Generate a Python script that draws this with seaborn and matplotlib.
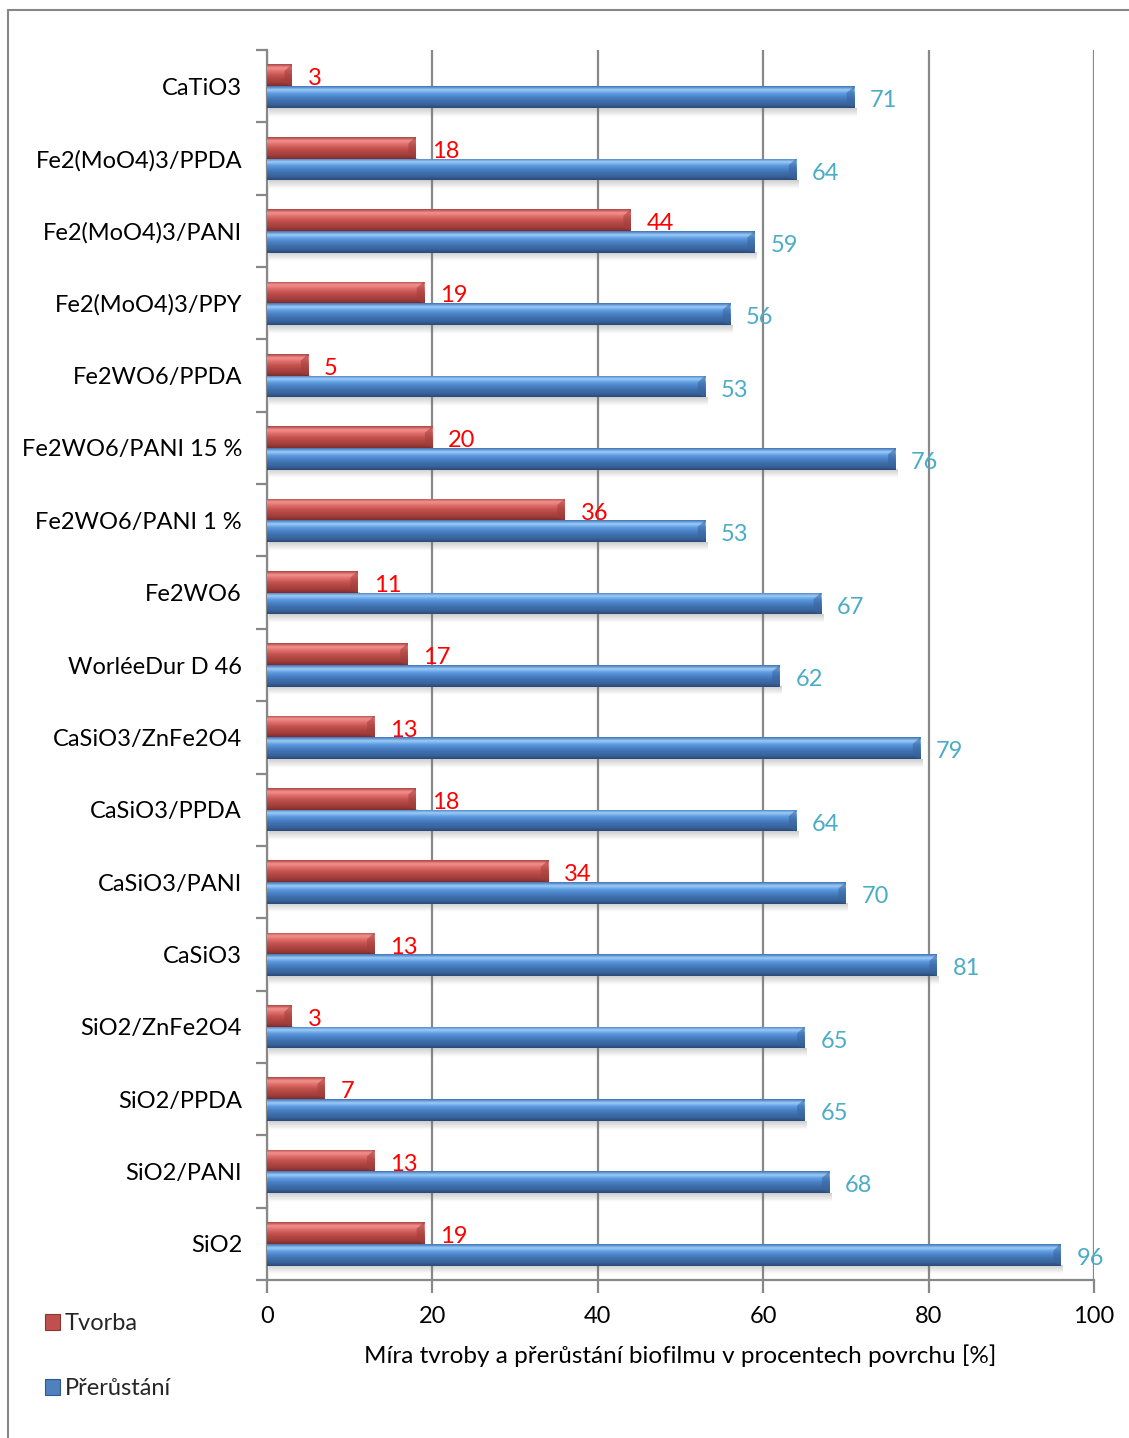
import numpy as np
import pandas as pd
import matplotlib
matplotlib.use("Agg")
import matplotlib.pyplot as plt
from matplotlib.patches import Patch
from matplotlib.lines import Line2D
from matplotlib.colors import to_rgb
import seaborn as sns

# ---- data ----
categories = [
    "CaTiO3", "Fe2(MoO4)3/PPDA", "Fe2(MoO4)3/PANI", "Fe2(MoO4)3/PPY",
    "Fe2WO6/PPDA", "Fe2WO6/PANI 15 %", "Fe2WO6/PANI 1 %", "Fe2WO6",
    "WorléeDur D 46", "CaSiO3/ZnFe2O4", "CaSiO3/PPDA", "CaSiO3/PANI",
    "CaSiO3", "SiO2/ZnFe2O4", "SiO2/PPDA", "SiO2/PANI", "SiO2",
]
tvorba = [3, 18, 44, 19, 5, 20, 36, 11, 17, 13, 18, 34, 13, 3, 7, 13, 19]
prerustani = [71, 64, 59, 56, 53, 76, 53, 67, 62, 79, 64, 70, 81, 65, 65, 68, 96]
series_names = ["Tvorba", "Přerůstání"]
x_ticks = [0, 20, 40, 60, 80, 100]
x_label = "Míra tvroby a přerůstání biofilmu v procentech povrchu [%]"

df = pd.DataFrame({
    "kategorie": categories * 2,
    "hodnota": tvorba + prerustani,
    "serie": [series_names[0]] * len(categories) + [series_names[1]] * len(categories),
})

red = "#C0504D"
blue = "#4F81BD"
label_colors = {"Tvorba": "#FF0000", "Přerůstání": "#4BACC6"}
palette = {"Tvorba": red, "Přerůstání": blue}

# vertical shading stops (top -> bottom) for the bevelled bars
shade = {
    red: ["#B04542", "#F2918F", "#E06E6B", "#C65451", "#B24643", "#A23E3B", "#7E2E2C"],
    blue: ["#3F73B8", "#9CCBF7", "#5E9BE0", "#4A82C7", "#3F70AE", "#39649C", "#2A4A76"],
}

sns.set_theme(style="white")
plt.rcParams["font.family"] = ["Lato", "DejaVu Sans"]

fig = plt.figure(figsize=(11.29, 14.38), dpi=100)
ax = fig.add_axes([267 / 1129, 158 / 1438, (1094 - 267) / 1129, (1280 - 50) / 1438])

sns.barplot(data=df, y="kategorie", x="hodnota", hue="serie", order=categories,
            hue_order=series_names, palette=palette, orient="h", width=0.6,
            dodge=True, errorbar=None, ax=ax, legend=False, saturation=1,
            linewidth=0, zorder=3)

# gradient fill + soft shadow for every bar
for p in list(ax.patches):
    x0, y0 = p.get_x(), p.get_y()
    w, h = p.get_width(), p.get_height()
    if w <= 0:
        continue
    fc = matplotlib.colors.to_hex(p.get_facecolor()[:3])
    key = red if fc.lower() == red.lower() else blue
    stops = np.array([to_rgb(c) for c in shade[key]])
    n = 64
    pos = np.linspace(0, 1, len(stops))
    t = np.linspace(0, 1, n)
    grad = np.stack([np.interp(t, pos, stops[:, k]) for k in range(3)], axis=1)
    img = grad[:, None, :].repeat(2, axis=1)
    im = ax.imshow(img, extent=(x0, x0 + w, y0 + h, y0), aspect="auto",
                   zorder=3.1, interpolation="bilinear")
    im.set_clip_path(p)
    # darker bevel at the bar end
    end_w = min(0.9, w * 0.4)
    ax.fill([x0 + w - end_w, x0 + w, x0 + w, x0 + w - end_w],
            [y0 + h * 0.3, y0, y0 + h, y0 + h * 0.85],
            color=stops[-2], alpha=0.55, zorder=3.2, linewidth=0)
    # shadow beneath
    sh = np.zeros((16, 2, 4))
    sh[..., :3] = 0.45
    sh[..., 3] = np.linspace(0.35, 0.0, 16)[:, None]
    ax.imshow(sh, extent=(x0 + 0.3, x0 + w + 0.3, y0 + h + 0.12, y0 + h), aspect="auto",
              zorder=2.9, interpolation="bilinear")

ax.set_xlim(0, 100)
ax.set_ylim(len(categories) - 0.5, -0.5)

# value labels
for i, cat in enumerate(categories):
    for s_idx, (name, vals) in enumerate(zip(series_names, [tvorba, prerustani])):
        yc = i - 0.15 + 0.3 * s_idx + 0.05
        ax.text(vals[i] + 1.9, yc, str(vals[i]), color=label_colors[name],
                fontsize=17, va="center", ha="left", zorder=5)

# axes styling
grid_col = "#888888"
ax.set_xticks(x_ticks)
ax.set_xticklabels([str(v) for v in x_ticks], fontsize=17, color="black")
ax.xaxis.grid(True, color=grid_col, linewidth=1.6, zorder=0)
ax.set_axisbelow(True)
ax.tick_params(axis="x", which="major", direction="out", length=9, width=1.6,
               color=grid_col, pad=10, bottom=True)
ax.set_yticks(range(len(categories)))
ax.set_yticklabels(categories, fontsize=17, color="black")
ax.tick_params(axis="y", which="major", length=0, pad=18)
ax.set_yticks(np.arange(-0.5, len(categories), 1.0), minor=True)
ax.tick_params(axis="y", which="minor", direction="out", length=8, width=1.6,
               color=grid_col, left=True)
for side in ["top", "right"]:
    ax.spines[side].set_visible(False)
for side in ["left", "bottom"]:
    ax.spines[side].set_visible(True)
    ax.spines[side].set_color(grid_col)
    ax.spines[side].set_linewidth(1.6)
ax.set_ylabel("")
ax.set_xlabel(x_label, fontsize=17.5, labelpad=12, color="black")

# legend in the lower-left corner
handles = [Patch(facecolor=red, edgecolor="#8B3533", linewidth=0.8),
           Patch(facecolor=blue, edgecolor="#2F5A8F", linewidth=0.8)]
fig.legend(handles, series_names, loc="upper left", bbox_to_anchor=(0.0315, 1 - 1304 / 1438),
           frameon=False, fontsize=17, handlelength=0.65, handleheight=0.65,
           handletextpad=0.2, labelspacing=1.85, borderaxespad=0)

# outer frame lines
fig.add_artist(Line2D([8 / 1129, 1.0], [1 - 10 / 1438, 1 - 10 / 1438],
                      transform=fig.transFigure, color="#878787", linewidth=1.5))
fig.add_artist(Line2D([8 / 1129, 8 / 1129], [0, 1 - 10 / 1438],
                      transform=fig.transFigure, color="#878787", linewidth=1.5))

fig.savefig("out.png", dpi=100, facecolor="white")
